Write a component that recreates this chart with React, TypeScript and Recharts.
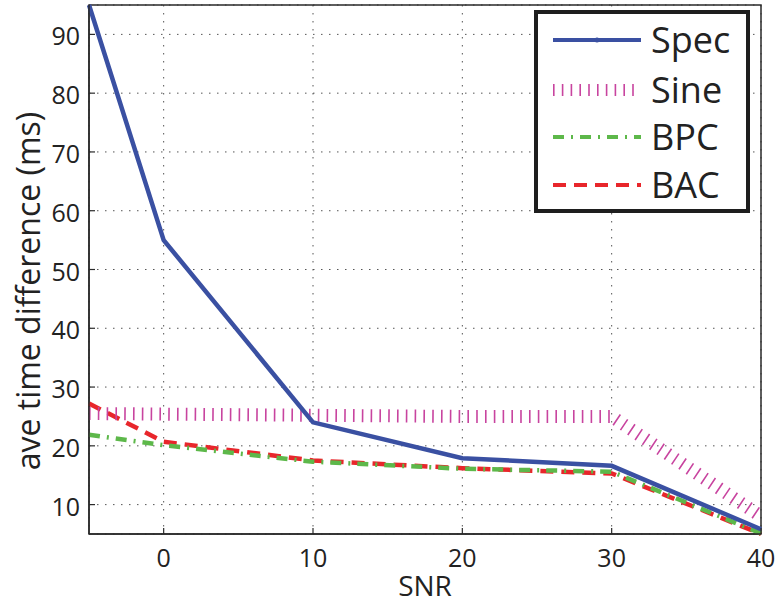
import { LineChart, Line, XAxis, YAxis, CartesianGrid, ReferenceArea } from "recharts";

// SNR values on the x axis
const snr = [-5, 0, 10, 20, 30, 40];
// ave time difference (ms) per method
const spec = [95, 55, 24, 17.9, 16.6, 5.8];
const sine = [25.5, 25.4, 25.2, 25, 25, 8];
const bpc = [21.9, 20.1, 17.3, 16.1, 15.6, 5.1];
const bac = [27.2, 20.7, 17.5, 16.2, 15.3, 5.0];

const xTicks = [0, 10, 20, 30, 40];
const yTicks = [10, 20, 30, 40, 50, 60, 70, 80, 90];

const data = snr.map((s, i) => ({
  snr: s,
  Spec: spec[i],
  Sine: sine[i],
  BPC: bpc[i],
  BAC: bac[i],
}));

const FONT = "'Open Sans', 'Noto Sans', sans-serif";
const AXIS = "#2a2a2a";

const series = [
  { key: "Spec", color: "#3a50a2", width: 4.5, dash: undefined },
  { key: "Sine", color: "#c8449f", width: 13, dash: "1.6 7.2" },
  { key: "BPC", color: "#5db84a", width: 4.5, dash: "11 7 2 7" },
  { key: "BAC", color: "#e8262b", width: 4.5, dash: "13 8" },
];

const BottomTick = (props: any) => {
  const { x, y, payload } = props;
  return (
    <g>
      <line x1={x} x2={x} y1={y} y2={y - 6} stroke={AXIS} strokeWidth={1.2} />
      <text x={x} y={y + 33} textAnchor="middle" fontSize={25} fontFamily={FONT} fill="#222">
        {payload.value}
      </text>
    </g>
  );
};

const LeftTick = (props: any) => {
  const { x, y, payload } = props;
  return (
    <g>
      <line x1={x} x2={x + 6} y1={y} y2={y} stroke={AXIS} strokeWidth={1.2} />
      <text x={x - 9} y={y + 11} textAnchor="end" fontSize={25} fontFamily={FONT} fill="#222">
        {payload.value}
      </text>
    </g>
  );
};

const TopTick = (props: any) => {
  const { x, y } = props;
  return <line x1={x} x2={x} y1={y} y2={y + 6} stroke={AXIS} strokeWidth={1.2} />;
};

const RightTick = (props: any) => {
  const { x, y } = props;
  return <line x1={x} x2={x - 6} y1={y} y2={y} stroke={AXIS} strokeWidth={1.2} />;
};

function LegendBox() {
  return (
    <div
      style={{
        position: "absolute",
        left: 534,
        top: 10,
        width: 208,
        height: 195,
        border: "4px solid #1e1e1e",
        background: "#fff",
      }}
    >
      <svg width={208} height={195}>
        {series.map((s, i) => {
          const cy = [26, 76, 123, 171][i];
          return (
            <g key={s.key}>
              <line
                x1={15}
                x2={103}
                y1={cy}
                y2={cy}
                stroke={s.color}
                strokeWidth={s.key === "Sine" ? 12 : 4}
                strokeDasharray={s.dash}
              />
              {s.key === "Spec" && <circle cx={59} cy={cy} r={2.5} fill={s.color} />}
              <text x={113} y={cy + 13} fontSize={36} fontFamily={FONT} fill="#222">
                {s.key}
              </text>
            </g>
          );
        })}
      </svg>
    </div>
  );
}

export default function App() {
  return (
    <div style={{ position: "relative", width: 776, height: 603 }}>
      <style>{`body{margin:0}`}</style>
      <LineChart
        width={776}
        height={603}
        data={data}
        margin={{ top: 5, right: 15, left: 0, bottom: 0 }}
      >
        <CartesianGrid stroke="#555" strokeDasharray="1.5 6.5" />
        <XAxis
          dataKey="snr"
          type="number"
          domain={[-5, 40]}
          ticks={xTicks}
          height={69}
          tickSize={0}
          tickMargin={0}
          tickLine={false}
          tick={<BottomTick />}
          stroke={AXIS}
          strokeWidth={1.5}
          label={{
            content: () => (
              <text x={425} y={596} textAnchor="middle" fontSize={28} fontFamily={FONT} fill="#222">
                SNR
              </text>
            ),
          }}
        />
        <XAxis
          xAxisId="top"
          orientation="top"
          type="number"
          domain={[-5, 40]}
          ticks={xTicks}
          height={0}
          tickSize={0}
          tickMargin={0}
          tickLine={false}
          tick={<TopTick />}
          stroke={AXIS}
          strokeWidth={1.5}
        />
        <YAxis
          type="number"
          domain={[5, 95]}
          ticks={yTicks}
          width={89}
          tickSize={0}
          tickMargin={0}
          tickLine={false}
          tick={<LeftTick />}
          stroke={AXIS}
          strokeWidth={1.5}
          label={{
            content: () => (
              <text
                x={40}
                y={291}
                transform="rotate(-90 40 291)"
                textAnchor="middle"
                fontSize={32}
                fontFamily={FONT}
                fill="#222"
              >
                ave time difference (ms)
              </text>
            ),
          }}
        />
        <YAxis
          yAxisId="right"
          orientation="right"
          type="number"
          domain={[5, 95]}
          ticks={yTicks}
          width={0}
          tickSize={0}
          tickMargin={0}
          tickLine={false}
          tick={<RightTick />}
          stroke={AXIS}
          strokeWidth={1.5}
        />
        <ReferenceArea x1={-5} x2={40} y1={5} y2={95} fill="none" stroke={AXIS} strokeWidth={1.5} />
        {series
          .slice()
          .reverse()
          .map((s) => (
            <Line
              key={s.key}
              dataKey={s.key}
              type="linear"
              stroke={s.color}
              strokeWidth={s.width}
              strokeDasharray={s.dash}
              dot={false}
              activeDot={false}
              isAnimationActive={false}
            />
          ))}
      </LineChart>
      <LegendBox />
    </div>
  );
}
